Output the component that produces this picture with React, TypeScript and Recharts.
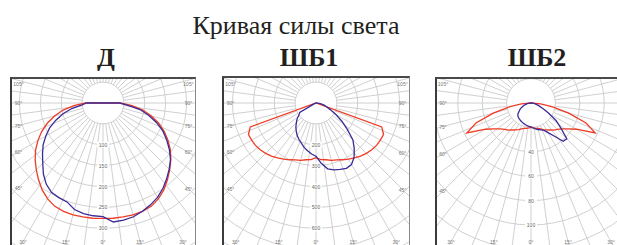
import { RadarChart, Radar, PolarGrid, PolarAngleAxis, PolarRadiusAxis } from "recharts"

// gamma angles of the measured intensities, degrees from nadir
const gammaDeg = [0, 5, 10, 15, 20, 25, 30, 35, 40, 45, 50, 55, 60, 65, 70, 75, 80, 85, 90, 95, 100, 105, 110, 115, 120, 125, 130, 135, 140, 145, 150, 155, 160, 165, 170, 175, 180]

// Д
const dRed = [276, 277, 277, 277, 276, 273, 265, 254, 240, 226, 212, 197, 180, 162, 142, 120, 97, 70, 42, 0, 0, 0, 0, 0, 0, 0, 0, 0, 0, 0, 0, 0, 0, 0, 0, 0, 0]
const dBlueLeft = [272, 271, 269, 264, 252, 250, 247, 237, 222, 204, 189, 175, 158, 141, 120, 99, 76, 50, 40, 0, 0, 0, 0, 0, 0, 0, 0, 0, 0, 0, 0, 0, 0, 0, 0, 0, 0]
const dBlueRight = [284, 286, 285, 282, 276, 269, 261, 250, 237, 224, 211, 194, 176, 158, 136, 113, 90, 58, 40, 0, 0, 0, 0, 0, 0, 0, 0, 0, 0, 0, 0, 0, 0, 0, 0, 0, 0]
const dRings = [50, 100, 150, 200, 250, 300, 350, 400, 450]
const dLabels = [100, 150, 200, 250, 300]

// ШБ1
const sb1Red = [262, 272, 276, 284, 290, 300, 310, 321, 332, 341, 349, 354, 356, 357, 335, 0, 0, 0, 0, 0, 0, 0, 0, 0, 0, 0, 0, 0, 0, 0, 0, 0, 0, 0, 0, 0, 0]
const sb1BlueLeft = [255, 245, 232, 220, 205, 193, 180, 165, 150, 133, 118, 100, 90, 10, 4, 2, 0, 0, 0, 0, 0, 0, 0, 0, 0, 0, 0, 0, 0, 0, 0, 0, 0, 0, 0, 0, 0]
const sb1BlueRight = [272, 290, 320, 332, 338, 345, 340, 318, 285, 250, 195, 150, 110, 75, 55, 40, 25, 10, 0, 0, 0, 0, 0, 0, 0, 0, 0, 0, 0, 0, 0, 0, 0, 0, 0, 0, 0]
const sb1Rings = [100, 200, 300, 400, 500, 600, 700, 800, 900]
const sb1Labels = [200, 300, 400, 500, 600]

// ШБ2
const sb2Red = [20, 20.5, 21, 21.5, 22.5, 24, 25.5, 27, 29, 30.5, 33, 37, 43, 58, 48, 32, 18, 8, 0, 0, 0, 0, 0, 0, 0, 0, 0, 0, 0, 0, 0, 0, 0, 0, 0, 0, 0]
const sb2BlueLeft = [19.5, 19.2, 18.8, 18.3, 17.8, 17.3, 16.8, 16.3, 15.8, 15.2, 14, 12, 10.4, 8.5, 6.5, 4.5, 3, 1.5, 0, 0, 0, 0, 0, 0, 0, 0, 0, 0, 0, 0, 0, 0, 0, 0, 0, 0, 0]
const sb2BlueRight = [20, 20.5, 21.5, 22.5, 23.5, 24.5, 28, 33, 41, 41.5, 32, 25, 16.5, 11, 7, 4.5, 3, 1.5, 0, 0, 0, 0, 0, 0, 0, 0, 0, 0, 0, 0, 0, 0, 0, 0, 0, 0, 0]
const sb2Rings = [20, 40, 60, 80, 100, 120, 140, 160]
const sb2Labels = [40, 60, 80, 100]

const angleLabels = [0, 15, 30, 45, 60, 75, 90, 105]

const S = 460
const C = S / 2
const PAGE_W = 617
const PAGE_H = 245
const RED = "#ef3b24"
const BLUE = "#3a2b96"
const GRID = "#cbcbcb"

// left half of the diagram (nadir -> 90° -> zenith) shows one C-plane, the right half the opposite one
function buildRing(red: number[], blueLeft: number[], blueRight: number[]) {
  const left = gammaDeg.map((g, i) => ({ a: g, red: red[i], blue: blueLeft[i] }))
  const right = gammaDeg
    .map((g, i) => ({ a: 360 - g, red: red[i], blue: blueRight[i] }))
    .filter((d) => d.a > 180 && d.a < 360)
    .reverse()
  return [...left, ...right]
}

type PanelProps = {
  left: number
  top: number
  width: number
  height: number
  cx: number
  cy: number
  pxPerUnit: number
  rings: number[]
  labels: number[]
  red: number[]
  blueLeft: number[]
  blueRight: number[]
}

function Panel(p: PanelProps) {
  const maxVal = p.rings[p.rings.length - 1]
  const outer = maxVal * p.pxPerUnit
  const inner = p.rings[0] * p.pxPerUnit
  const offX = p.cx - C
  const offY = p.cy - C
  const pos = { position: "absolute" as const, left: offX - (p.left + 2), top: offY - (p.top + 2) }
  const data = buildRing(p.red, p.blueLeft, p.blueRight)
  const gridData = Array.from({ length: 48 }, (_, i) => ({ a: i * 7.5, v: p.rings[0] }))

  const xl = p.left + 8 - offX
  const xr = p.left + p.width - 8 - offX
  const yb = PAGE_H - 3.5 - offY
  const yt = p.top + 7 - offY

  const angleTick = (props: any) => {
    const a = Number(props.payload.value)
    const g = a <= 180 ? a : 360 - a
    if (!angleLabels.includes(g)) return <g />
    const rad = ((-90 - a) * Math.PI) / 180
    const dx = Math.cos(rad)
    const dy = -Math.sin(rad)
    const ts: number[] = []
    if (dx < -1e-6) ts.push((xl - C) / dx)
    if (dx > 1e-6) ts.push((xr - C) / dx)
    if (dy > 1e-6) ts.push((yb - C) / dy)
    const t = Math.min(...ts)
    const x = C + t * dx
    const y = Math.max(C + t * dy, yt)
    if (x + offX > PAGE_W - 6) return <g />
    return (
      <text x={x} y={y} textAnchor="middle" dominantBaseline="central" fontSize={5} fill="#777" fontFamily="Liberation Sans, Arial">
        {g}°
      </text>
    )
  }

  const radiusTick = (props: any) => {
    const v = props.payload.value
    if (!p.labels.includes(v)) return <g />
    return (
      <g>
        <rect x={props.x - 6} y={props.y - 3} width={12} height={6} fill="#fff" />
        <text x={props.x} y={props.y} textAnchor="middle" dominantBaseline="central" fontSize={5} fill="#666" fontFamily="Liberation Sans, Arial">
          {v}
        </text>
      </g>
    )
  }

  return (
    <div
      style={{
        position: "absolute",
        left: p.left,
        top: p.top,
        width: p.width - 3,
        height: p.height - 2,
        borderLeft: "2px solid #3c3c3c",
        borderTop: "2px solid #4a4a4a",
        borderRight: "1px solid #8a8a8a",
        overflow: "hidden",
        background: "#fff",
      }}
    >
      <div style={pos}>
        <RadarChart width={S} height={S} cx={C} cy={C} innerRadius={inner} outerRadius={outer} data={gridData} startAngle={-90} endAngle={-450}>
          <PolarGrid gridType="circle" stroke={GRID} strokeWidth={0.9} />
          <PolarAngleAxis dataKey="a" tick={angleTick} tickLine={false} axisLine={false} />
          <PolarRadiusAxis angle={-90} domain={[p.rings[0], maxVal]} ticks={p.rings as any} tickCount={p.rings.length} tick={radiusTick} axisLine={false} tickLine={false} />
          <Radar dataKey="v" stroke="none" fill="none" dot={false} isAnimationActive={false} />
        </RadarChart>
      </div>
      <div style={pos}>
        <RadarChart width={S} height={S} cx={C} cy={C} innerRadius={0} outerRadius={outer} data={data} startAngle={-90} endAngle={-450}>
          <PolarAngleAxis dataKey="a" tick={false} tickLine={false} axisLine={false} />
          <PolarRadiusAxis domain={[0, maxVal]} tick={false} axisLine={false} tickLine={false} />
          <Radar dataKey="red" stroke={RED} strokeWidth={1.3} fill="none" fillOpacity={0} dot={false} isAnimationActive={false} />
          <Radar dataKey="blue" stroke={BLUE} strokeWidth={1.3} fill="none" fillOpacity={0} dot={false} isAnimationActive={false} />
        </RadarChart>
      </div>
    </div>
  )
}

export default function App() {
  return (
    <div style={{ position: "absolute", left: 0, top: 0, width: PAGE_W, height: PAGE_H, overflow: "hidden", background: "#fff" }}>
      <svg width={PAGE_W} height={76} style={{ position: "absolute", left: 0, top: 0 }}>
        <text x={296} y={34} textAnchor="middle" fontSize={26} fontFamily="Liberation Serif, Times New Roman, serif" fill="#231f20">
          Кривая силы света
        </text>
        <text x={106} y={66} textAnchor="middle" fontSize={26} fontWeight="bold" fontFamily="Liberation Serif, Times New Roman, serif" fill="#231f20">
          Д
        </text>
        <text x={309} y={66} textAnchor="middle" fontSize={26} fontWeight="bold" fontFamily="Liberation Serif, Times New Roman, serif" fill="#231f20">
          ШБ1
        </text>
        <text x={537} y={66} textAnchor="middle" fontSize={26} fontWeight="bold" fontFamily="Liberation Serif, Times New Roman, serif" fill="#231f20">
          ШБ2
        </text>
      </svg>
      <Panel left={10} top={77} width={186} height={171} cx={102.5} cy={103} pxPerUnit={0.4177} rings={dRings} labels={dLabels} red={dRed} blueLeft={dBlueLeft} blueRight={dBlueRight} />
      <Panel left={222} top={76} width={188} height={172} cx={315.5} cy={102.5} pxPerUnit={0.2088} rings={sb1Rings} labels={sb1Labels} red={sb1Red} blueLeft={sb1BlueLeft} blueRight={sb1BlueRight} />
      <Panel left={435} top={77} width={192} height={171} cx={531} cy={103} pxPerUnit={1.22} rings={sb2Rings} labels={sb2Labels} red={sb2Red} blueLeft={sb2BlueLeft} blueRight={sb2BlueRight} />
    </div>
  )
}
